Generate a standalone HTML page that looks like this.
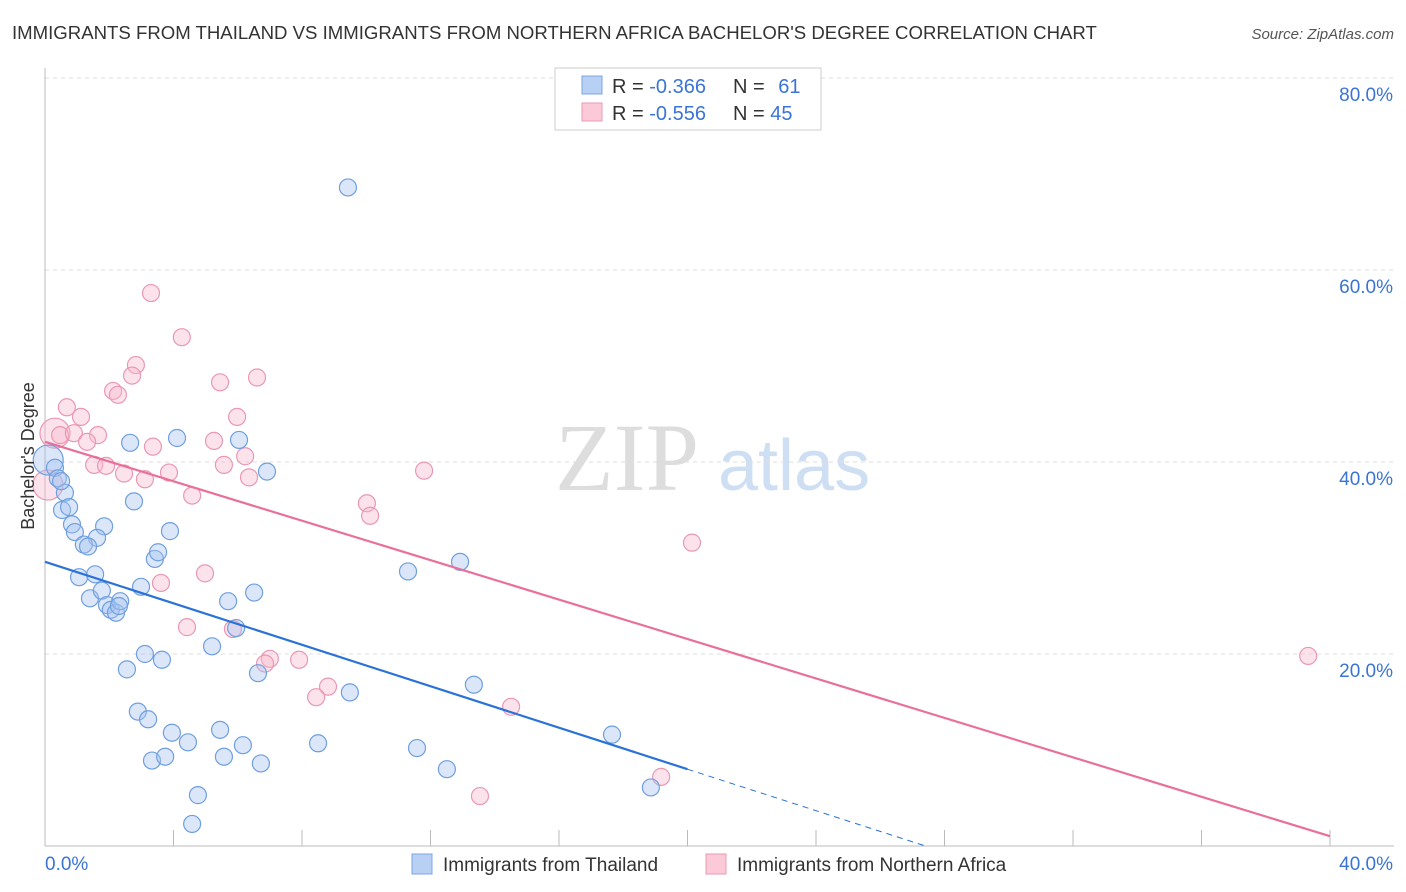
<!DOCTYPE html>
<html><head><meta charset="utf-8"><style>
body{margin:0;background:#fff;font-family:"Liberation Sans",sans-serif;}
svg{display:block}
</style></head><body>
<svg id="chart" width="1406" height="892">
<text x="12" y="39" font-size="18.6" fill="#333">IMMIGRANTS FROM THAILAND VS IMMIGRANTS FROM NORTHERN AFRICA BACHELOR'S DEGREE CORRELATION CHART</text>
<text x="1394" y="39" font-size="15" fill="#555" text-anchor="end" font-style="italic">Source: ZipAtlas.com</text>
<g>
<text x="555" y="490" font-size="96" fill="#ddd" font-family="Liberation Serif,serif">ZIP</text>
<text x="718" y="490" font-size="72" fill="#cfdff3">atlas</text>
</g>
<g id="grid"></g>
<g id="axes"></g>
<g id="marks"></g>
<text transform="translate(34,456) rotate(-90)" font-size="18" fill="#333" text-anchor="middle">Bachelor's Degree</text>
<g>
<rect x="555" y="68" width="266" height="62" fill="#fff" stroke="#ccc"/>
<rect x="582" y="76" width="20" height="18" fill="#b7d0f3" stroke="#7ea7e3"/>
<rect x="582" y="103" width="20" height="18" fill="#fbc9d8" stroke="#eb9ab3"/>
<text x="612" y="93" font-size="20" fill="#333">R = <tspan fill="#3a74d6">-0.366</tspan></text>
<text x="733" y="93" font-size="20" fill="#333">N = <tspan fill="#3a74d6" dx="8">61</tspan></text>
<text x="612" y="120" font-size="20" fill="#333">R = <tspan fill="#3a74d6">-0.556</tspan></text>
<text x="733" y="120" font-size="20" fill="#333">N = <tspan fill="#3a74d6">45</tspan></text>
</g>
<g>
<rect x="412" y="854" width="20" height="20" fill="#b7d0f3" stroke="#7ea7e3"/>
<text x="443" y="871" font-size="19" fill="#333">Immigrants from Thailand</text>
<rect x="706" y="854" width="20" height="20" fill="#fbc9d8" stroke="#eb9ab3"/>
<text x="737" y="871" font-size="19" fill="#333">Immigrants from Northern Africa</text>
</g>
</svg>
<script>
const yTicks=[20,40,60,80];
const yTickLabels=["20.0%","40.0%","60.0%","80.0%"];
const xTicks=[0,4,8,12,16,20,24,28,32,36,40];
const thaiX=[9.43,0.1,0.31,0.4,0.62,0.53,0.75,0.84,0.93,1.84,1.62,1.21,1.34,1.06,1.56,1.40,1.77,1.93,2.05,2.21,2.34,2.30,2.65,2.77,2.99,3.42,3.52,3.89,4.11,3.11,2.55,3.64,2.89,3.21,3.95,4.45,3.33,3.74,4.76,4.58,6.04,6.91,5.70,6.51,5.95,5.20,6.63,5.45,6.16,5.57,6.72,8.50,9.49,11.30,12.92,13.35,11.58,12.51,17.65,18.86,0.5];
const thaiY=[68.6,40.2,39.4,38.3,36.8,35.0,35.3,33.5,32.7,33.3,32.1,31.4,31.2,28.0,28.3,25.8,26.6,25.1,24.6,24.3,25.5,25.0,42.0,35.9,27.0,29.9,30.6,32.8,42.5,20.0,18.4,19.4,14.0,13.2,11.8,10.8,8.9,9.3,5.3,2.3,42.3,39.0,25.5,26.4,22.7,20.8,18.0,12.1,10.5,9.3,8.6,10.7,16.0,28.6,29.6,16.8,10.2,8.0,11.6,6.1,38.0];
const thaiBig=[1];
const afX=[3.30,4.26,2.83,2.71,2.12,2.27,5.45,6.60,0.68,1.12,0.31,0.47,0.90,1.65,1.31,3.36,5.26,5.98,6.23,1.53,1.90,2.46,3.11,3.86,5.57,6.35,0.09,4.58,11.80,10.02,10.12,3.61,4.98,20.14,4.42,5.85,7.00,6.85,7.91,8.81,8.44,14.51,13.54,19.18,39.32];
const afY=[57.6,53.0,50.1,49.0,47.4,47.0,48.3,48.8,45.7,44.7,43.0,42.8,43.0,42.8,42.1,41.6,42.2,44.7,40.6,39.7,39.6,38.8,38.2,38.9,39.7,38.4,37.6,36.5,39.1,35.7,34.4,27.4,28.4,31.6,22.8,22.6,19.5,19.0,19.4,16.6,15.5,14.5,5.2,7.2,19.8];
const afBig=[10,26];
const thaiTrend=[29.6,-1.08];
const afTrend=[42.1,-1.027];
const NS="http://www.w3.org/2000/svg";
const X=v=>45+v*32.125, Y=v=>846-v*9.6;
function mk(t,a,p){const e=document.createElementNS(NS,t);for(const k in a)e.setAttribute(k,a[k]);p.appendChild(e);return e;}
const grid=document.getElementById('grid'),axes=document.getElementById('axes'),marks=document.getElementById('marks');
yTicks.forEach((t,i)=>{
 const l=mk('line',{x1:45,x2:1394,y1:Y(t),y2:Y(t),stroke:'#ddd','stroke-dasharray':'4,4'},grid);
 
 
 const tx=mk('text',{x:1393,y:Y(t)+23,'font-size':19,fill:'#3a74d6','text-anchor':'end'},axes);tx.textContent=yTickLabels[i];
 
 
});
const ya=mk('line',{x1:45,x2:45,y1:68,y2:846,stroke:'#bbb'},axes);


const xa=mk('line',{x1:45,x2:1394,y1:846,y2:846,stroke:'#bbb'},axes);


xTicks.forEach(t=>{const l=mk('line',{x1:X(t),x2:X(t),y1:830,y2:846,stroke:'#bbb'},axes);
 
 });
const xl0=mk('text',{x:45,y:870,'font-size':19,fill:'#3a74d6'},axes);xl0.textContent='0.0%';


const xl1=mk('text',{x:1393,y:870,'font-size':19,fill:'#3a74d6','text-anchor':'end'},axes);xl1.textContent='40.0%';


function pts(xs,ys,big,fill,stroke,name){xs.forEach((x,i)=>{const c=mk('circle',{cx:X(x),cy:Y(ys[i]),r:big.includes(i)?15:8.5,fill:fill,stroke:stroke,'stroke-width':1.2},marks);
 
 });}
pts(afX,afY,afBig,'rgba(248,184,204,0.4)','#ea98b1','point-northern-africa');
pts(thaiX,thaiY,thaiBig,'rgba(164,196,240,0.4)','#6f9fe0','point-thailand');
const tEnd=20, tZero=-thaiTrend[0]/thaiTrend[1];
const tl=mk('line',{x1:X(0),y1:Y(thaiTrend[0]),x2:X(tEnd),y2:Y(thaiTrend[0]+thaiTrend[1]*tEnd),stroke:'#2a72d8','stroke-width':2.2},marks);


const td=mk('line',{x1:X(tEnd),y1:Y(thaiTrend[0]+thaiTrend[1]*tEnd),x2:X(tZero),y2:Y(0),stroke:'#2a72d8','stroke-width':1,'stroke-dasharray':'6,5'},marks);


const al=mk('line',{x1:X(0),y1:Y(afTrend[0]),x2:X(40),y2:Y(afTrend[0]+afTrend[1]*40),stroke:'#e8709a','stroke-width':2.2},marks);


</script>
</body></html>
